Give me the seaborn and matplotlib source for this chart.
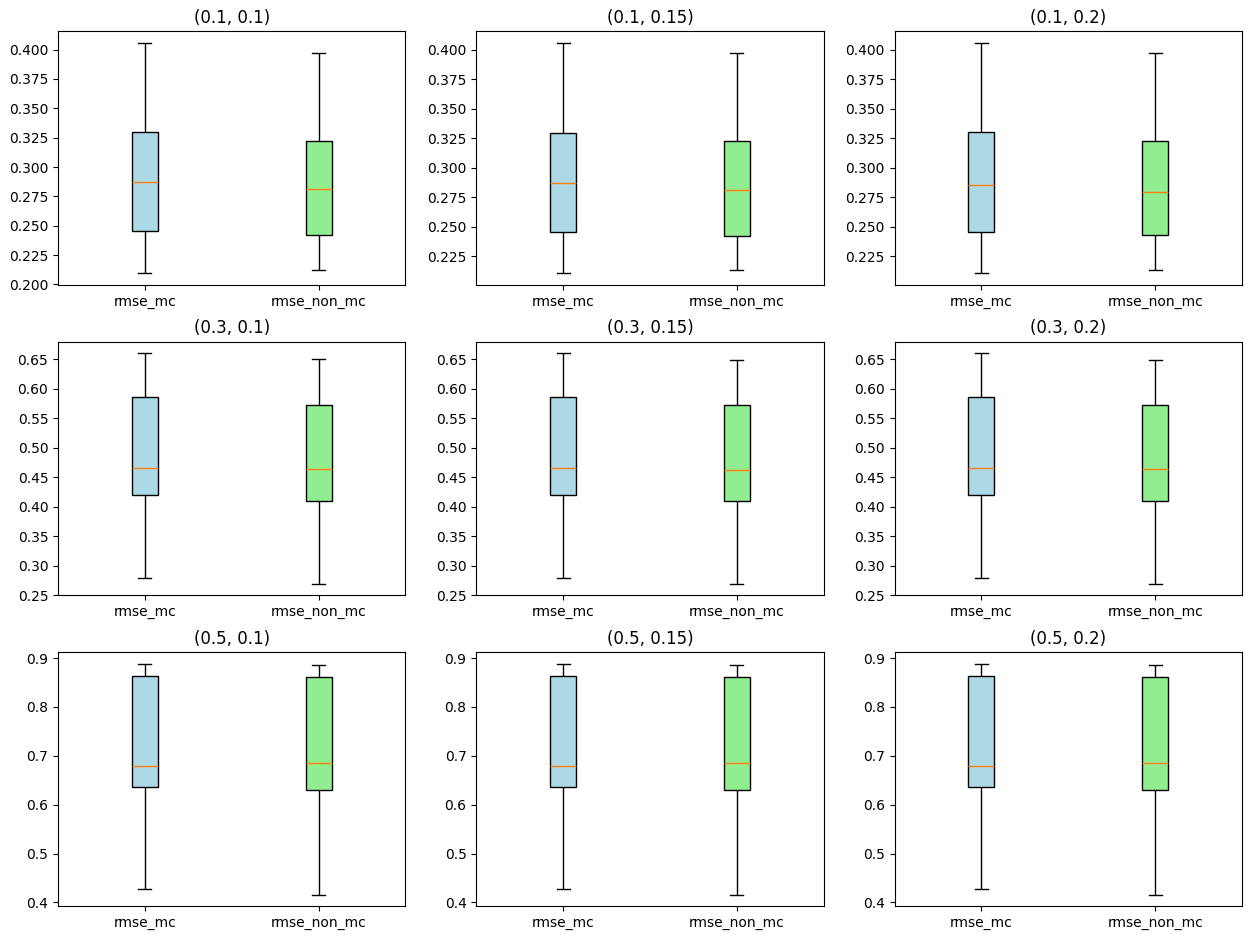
import pandas as pd
import matplotlib
matplotlib.use('Agg')
import matplotlib.pyplot as plt
import seaborn as sns
import warnings
warnings.filterwarnings('ignore')

# ---- 数据：每个子图的五数概括 (最小, Q1, 中位数, Q3, 最大) ----
row_params = [0.1, 0.3, 0.5]
col_params = [0.1, 0.15, 0.2]
metrics = ['rmse_mc', 'rmse_non_mc']

# 行 0.1
mc_01_01 = [0.2095, 0.2455, 0.287, 0.3295, 0.406]
non_01_01 = [0.212, 0.2423, 0.281, 0.3224, 0.3974]
mc_01_015 = [0.2105, 0.2455, 0.287, 0.3295, 0.406]
non_01_015 = [0.213, 0.2423, 0.281, 0.3224, 0.3974]
mc_01_02 = [0.2105, 0.2458, 0.2855, 0.3298, 0.406]
non_01_02 = [0.213, 0.2432, 0.2793, 0.3227, 0.3974]

# 行 0.3
mc_03_01 = [0.280, 0.4195, 0.465, 0.5865, 0.660]
non_03_01 = [0.2695, 0.410, 0.464, 0.5732, 0.650]
mc_03_015 = [0.280, 0.4195, 0.465, 0.5865, 0.660]
non_03_015 = [0.2695, 0.410, 0.463, 0.5732, 0.649]
mc_03_02 = [0.280, 0.4195, 0.465, 0.5865, 0.660]
non_03_02 = [0.2695, 0.410, 0.464, 0.5732, 0.648]

# 行 0.5
mc_05_01 = [0.427, 0.6367, 0.6796, 0.864, 0.888]
non_05_01 = [0.416, 0.6306, 0.6844, 0.8605, 0.8857]
mc_05_015 = [0.427, 0.6367, 0.6796, 0.864, 0.888]
non_05_015 = [0.416, 0.6306, 0.6844, 0.8605, 0.8857]
mc_05_02 = [0.427, 0.6367, 0.6796, 0.864, 0.888]
non_05_02 = [0.416, 0.6306, 0.6844, 0.8605, 0.8857]

panels = [
    [(mc_01_01, non_01_01), (mc_01_015, non_01_015), (mc_01_02, non_01_02)],
    [(mc_03_01, non_03_01), (mc_03_015, non_03_015), (mc_03_02, non_03_02)],
    [(mc_05_01, non_05_01), (mc_05_015, non_05_015), (mc_05_02, non_05_02)],
]

colors = ['lightblue', 'lightgreen']


def main():
    fig, axes = plt.subplots(3, 3, figsize=(12.51, 9.4), dpi=100)
    for i, r in enumerate(row_params):
        for j, c in enumerate(col_params):
            ax = axes[i, j]
            mc, non = panels[i][j]
            df = pd.DataFrame({
                'metric': [metrics[0]] * len(mc) + [metrics[1]] * len(non),
                'value': mc + non,
            })
            sns.boxplot(data=df, x='metric', y='value', hue='metric',
                        palette=colors, saturation=1, legend=False, width=0.15,
                        whis=(0, 100), linecolor='black', linewidth=1,
                        medianprops={'color': '#ff7f0e'}, ax=ax)
            ax.set_title(f'({r}, {c})')
            ax.set_xlabel('')
            ax.set_ylabel('')
    plt.subplots_adjust(left=0.0464, right=0.9928, top=0.967, bottom=0.036,
                        wspace=0.204, hspace=0.224)
    plt.savefig('out.png', dpi=100)
    plt.close()


if __name__ == "__main__":
    main()
